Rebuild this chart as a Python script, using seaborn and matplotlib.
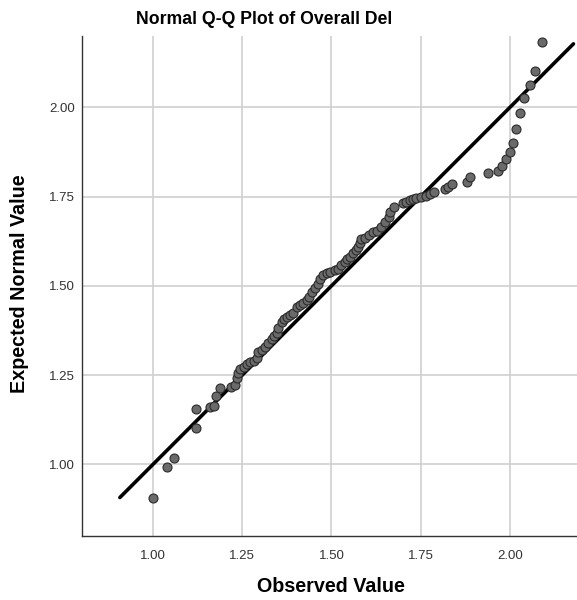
import numpy as np
import pandas as pd
import matplotlib
matplotlib.use("Agg")
import matplotlib.pyplot as plt
import seaborn as sns

# observed vs expected normal values
observed = [1.000, 1.039, 1.058, 1.119, 1.119, 1.159, 1.171, 1.175, 1.188, 1.218,
            1.229, 1.234, 1.238, 1.245, 1.254, 1.263, 1.273, 1.282, 1.291, 1.294,
            1.304, 1.313, 1.322, 1.332, 1.338, 1.348, 1.350, 1.360, 1.366, 1.374,
            1.383, 1.392, 1.404, 1.411, 1.420, 1.430, 1.436, 1.444, 1.453, 1.462,
            1.469, 1.476, 1.488, 1.497, 1.509, 1.518, 1.528, 1.537, 1.544, 1.551,
            1.561, 1.568, 1.575, 1.581, 1.584, 1.593, 1.605, 1.617, 1.628, 1.640,
            1.649, 1.661, 1.665, 1.675, 1.701, 1.710, 1.719, 1.729, 1.738, 1.752,
            1.766, 1.777, 1.787, 1.818, 1.827, 1.839, 1.881, 1.888, 1.939, 1.968,
            1.979, 1.989, 1.999, 2.009, 2.018, 2.029, 2.039, 2.056, 2.069, 2.089]
expected = [0.905, 0.993, 1.018, 1.102, 1.156, 1.161, 1.163, 1.191, 1.214, 1.217,
            1.222, 1.242, 1.257, 1.266, 1.272, 1.281, 1.288, 1.290, 1.297, 1.316,
            1.320, 1.330, 1.339, 1.350, 1.360, 1.369, 1.381, 1.400, 1.406, 1.414,
            1.418, 1.425, 1.440, 1.446, 1.453, 1.461, 1.470, 1.482, 1.493, 1.505,
            1.519, 1.529, 1.535, 1.540, 1.543, 1.547, 1.557, 1.568, 1.575, 1.582,
            1.591, 1.601, 1.610, 1.619, 1.631, 1.634, 1.643, 1.650, 1.655, 1.665,
            1.678, 1.694, 1.706, 1.722, 1.731, 1.736, 1.740, 1.744, 1.747, 1.749,
            1.751, 1.758, 1.764, 1.770, 1.778, 1.786, 1.792, 1.804, 1.816, 1.823,
            1.837, 1.855, 1.874, 1.901, 1.939, 1.985, 2.026, 2.063, 2.101, 2.182]

# reference line (y = x)
line_x = [0.907, 2.178]
line_y = [0.907, 2.178]

ticks = [1.00, 1.25, 1.50, 1.75, 2.00]
tick_labels = ["1.00", "1.25", "1.50", "1.75", "2.00"]

df = pd.DataFrame({"observed": observed, "expected": expected})

sns.set_theme(style="whitegrid")
plt.rcParams["font.family"] = ["Liberation Sans", "DejaVu Sans"]

fig = plt.figure(figsize=(5.77, 6.0), dpi=100)
ax = fig.add_axes([0.1416, 0.1072, 0.8584, 0.8328])

sns.lineplot(x=line_x, y=line_y, color="black", linewidth=2.6, ax=ax, zorder=2)
sns.scatterplot(data=df, x="observed", y="expected", s=42, color="#6a6a6a",
                edgecolor="#2a2a2a", linewidth=0.8, ax=ax, zorder=3)

ax.set_xlim(0.80, 2.188)
ax.set_ylim(0.80, 2.20)
ax.set_xticks(ticks)
ax.set_xticklabels(tick_labels)
ax.set_yticks(ticks)
ax.set_yticklabels(tick_labels)
ax.tick_params(length=0, labelsize=9.5, labelcolor="#333333")
ax.tick_params(axis="x", pad=10)
ax.tick_params(axis="y", pad=5)

ax.grid(True, color="#d0d0d0", linewidth=1.2)
ax.set_axisbelow(True)
ax.spines["right"].set_visible(False)
ax.spines["top"].set_visible(False)
for s in ["left", "bottom"]:
    ax.spines[s].set_visible(True)
    ax.spines[s].set_color("#333333")
    ax.spines[s].set_linewidth(1.0)

ax.set_xlabel("")
ax.set_ylabel("")
fig.text(264 / 577, 1 - 20 / 600, "Normal Q-Q Plot of Overall Del", color="black",
         ha="center", va="center", fontsize=12.7, fontweight="bold")
fig.text(331 / 577, 1 - 586 / 600, "Observed Value", color="black",
         ha="center", va="center", fontsize=14.2, fontweight="bold")
fig.text(20 / 577, 1 - 284 / 600, "Expected Normal Value", rotation=90, color="black",
         ha="center", va="center", fontsize=14.2, fontweight="bold")

fig.savefig("out.png", dpi=100)
